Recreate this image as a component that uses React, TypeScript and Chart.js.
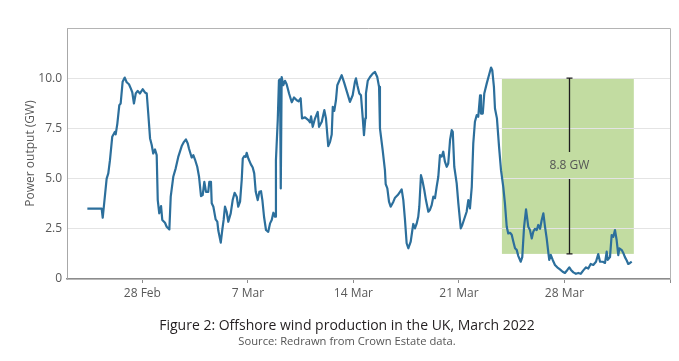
import React, { useEffect, useRef } from "react";
import { Chart, registerables } from "chart.js";

Chart.register(...registerables);

// x values: days since 23 Feb 2022 00:00
const days = [
  1.35, 2.3, 2.37, 2.63, 2.74, 2.85, 3.0, 3.18, 3.23, 3.34, 3.47, 3.56, 3.69, 3.83, 3.96, 4.11, 4.23, 4.33, 4.44, 4.56,
  4.69, 4.84, 5.02, 5.17, 5.29, 5.39, 5.51, 5.62, 5.72, 5.84, 5.95, 6.02, 6.12, 6.24, 6.32, 6.5, 6.61, 6.79, 6.88, 7.05,
  7.21, 7.38, 7.61, 7.76, 7.89, 8.01, 8.09, 8.27, 8.38, 8.49, 8.64, 8.76, 8.89, 9.0, 9.11, 9.22, 9.37, 9.44, 9.55, 9.6,
  9.71, 9.86, 9.97, 10.04, 10.2, 10.3, 10.39, 10.48, 10.59, 10.7, 10.86, 10.99, 11.12, 11.26, 11.36, 11.48, 11.59, 11.66, 11.76, 11.85,
  11.92, 12.03, 12.19, 12.32, 12.42, 12.52, 12.65, 12.76, 12.87, 12.96, 13.07, 13.2, 13.35, 13.47, 13.58, 13.69, 13.8, 13.86, 13.98, 14.06,
  14.13, 14.18, 14.24, 14.35, 14.46, 14.57, 14.73, 14.91, 15.06, 15.24, 15.36, 15.5, 15.59, 15.79, 16.01, 16.12, 16.19, 16.3, 16.45, 16.63,
  16.72, 16.9, 17.07, 17.18, 17.33, 17.45, 17.56, 17.63, 17.73, 17.84, 17.93, 18.06, 18.22, 18.37, 18.55, 18.77, 18.95, 19.1, 19.17, 19.26,
  19.39, 19.5, 19.62, 19.7, 19.79, 19.83, 19.95, 20.1, 20.28, 20.43, 20.58, 20.7, 20.76, 20.94, 21.09, 21.14, 21.25, 21.36, 21.47, 21.65,
  21.76, 21.94, 22.09, 22.2, 22.31, 22.42, 22.53, 22.64, 22.8, 22.91, 22.97, 23.08, 23.2, 23.3, 23.37, 23.48, 23.57, 23.7, 23.81, 23.97,
  24.08, 24.19, 24.3, 24.41, 24.52, 24.63, 24.74, 24.86, 24.96, 25.07, 25.19, 25.29, 25.41, 25.52, 25.59, 25.69, 25.85, 25.96, 26.12, 26.22,
  26.4, 26.51, 26.62, 26.73, 26.85, 26.95, 27.06, 27.18, 27.28, 27.4, 27.46, 27.58, 27.68, 27.84, 27.99, 28.13, 28.21, 28.32, 28.39, 28.52,
  28.66, 28.79, 28.94, 29.05, 29.17, 29.27, 29.39, 29.5, 29.61, 29.72, 29.83, 29.94, 30.1, 30.2, 30.32, 30.45, 30.6, 30.71, 30.83, 30.93,
  31.04, 31.16, 31.26, 31.38, 31.49, 31.6, 31.71, 31.82, 31.93, 31.99, 32.09, 32.22, 32.37, 32.52, 32.7, 32.88, 33.03, 33.19, 33.32, 33.43,
  33.59, 33.76, 33.92, 34.08, 34.25, 34.43, 34.58, 34.74, 34.91, 35.09, 35.24, 35.36, 35.54, 35.69, 35.8, 35.87, 36.02, 36.13, 36.24, 36.35,
  36.46, 36.57, 36.64, 36.8, 36.9, 37.01, 37.13, 37.23, 37.35, 37.46,
];

// Power output, GW
const gw = [
  3.5, 3.5, 3.05, 5.0, 5.26, 5.92, 7.08, 7.33, 7.2, 7.74, 8.66, 8.74, 9.82, 10.03, 9.8, 9.7, 9.49, 9.3, 8.74, 9.24,
  9.37, 9.24, 9.45, 9.29, 9.24, 8.24, 7.0, 6.67, 6.25, 6.45, 6.17, 3.93, 3.27, 3.63, 2.94, 2.8, 2.6, 2.47, 4.1, 5.09,
  5.51, 6.08, 6.62, 6.83, 6.95, 6.75, 6.5, 6.05, 6.17, 5.95, 5.59, 5.09, 4.13, 4.18, 4.84, 4.34, 4.34, 4.84, 4.84, 3.77,
  3.6, 2.97, 2.86, 2.4, 1.81, 2.44, 2.94, 3.6, 3.35, 2.85, 3.27, 3.93, 4.29, 4.1, 3.6, 3.85, 4.93, 6.0, 6.12, 6.08,
  6.28, 6.0, 5.72, 5.55, 5.26, 4.34, 3.93, 4.34, 4.37, 3.93, 3.1, 2.44, 2.35, 2.77, 2.94, 3.3, 3.1, 5.92, 7.91, 9.9,
  9.95, 4.51, 10.06, 9.65, 9.87, 9.7, 9.24, 8.8, 9.04, 8.9, 8.85, 9.0, 8.0, 8.05, 7.91, 7.8, 8.1, 7.58, 7.99, 8.32,
  7.58, 7.83, 8.41, 7.99, 6.62, 6.83, 7.2, 8.57, 8.37, 8.9, 9.65, 9.87, 10.15, 9.82, 9.37, 8.82, 9.15, 9.82, 9.99, 9.65,
  9.24, 9.15, 8.0, 7.16, 8.0, 9.24, 9.87, 10.06, 10.23, 10.31, 10.06, 9.57, 7.5, 6.42, 5.42, 4.73, 4.51, 3.85, 3.6, 3.85,
  4.05, 4.18, 4.34, 4.46, 3.93, 2.94, 1.78, 1.53, 1.86, 2.44, 2.74, 2.52, 2.77, 3.1, 3.6, 5.17, 4.93, 4.43, 3.93, 3.35,
  3.45, 3.68, 4.1, 4.02, 4.59, 5.09, 6.17, 6.1, 6.34, 5.84, 5.59, 5.75, 6.92, 7.41, 7.33, 5.59, 4.76, 3.77, 2.52, 2.69,
  3.1, 3.35, 3.93, 3.52, 4.59, 6.75, 7.83, 8.16, 8.08, 9.15, 8.24, 8.24, 9.24, 9.73, 10.15, 10.53, 10.4, 9.57, 8.49, 8.0,
  6.58, 5.42, 4.59, 3.77, 2.6, 2.27, 2.3, 2.2, 1.86, 1.53, 1.45, 1.14, 0.86, 1.09, 2.6, 3.47, 2.6, 2.44, 2.02, 2.35,
  2.5, 2.44, 2.69, 2.5, 2.94, 3.27, 2.6, 2.02, 1.31, 0.95, 1.2, 0.95, 0.7, 0.58, 0.48, 0.36, 0.3, 0.45, 0.58, 0.45,
  0.33, 0.26, 0.3, 0.26, 0.43, 0.58, 0.52, 0.75, 0.7, 0.86, 1.24, 0.86, 0.86, 0.8, 1.36, 0.95, 1.09, 2.19, 2.1, 2.44,
  1.94, 1.19, 1.53, 1.44, 1.3, 1.09, 0.92, 0.75, 0.8, 0.86,
];

const xTickDays = [5, 12, 19, 26, 33, 40];
const xTickLabels = ["28 Feb", "7 Mar", "14 Mar", "21 Mar", "28 Mar", ""];
const yTickValues = [0, 2.5, 5, 7.5, 10];
const yTickLabels = ["0", "2.5", "5.0", "7.5", "10.0"];

// Shaded range and its annotation
const boxDays = [28.85, 37.6];
const boxRange = [1.25, 10];
const gapDay = 33.32;
const gapLabel = "8.8 GW";
const gapLabelRange = [4.98, 6.32];

const titleText = "Figure 2: Offshore wind production in the UK, March 2022";
const sourceText = "Source: Redrawn from Crown Estate data.";

const FONT = "'Open Sans', 'DejaVu Sans', sans-serif";

const annotationPlugin = {
  id: "gapAnnotation",
  beforeDraw(chart: any) {
    const { ctx } = chart;
    const x = chart.scales.x;
    const y = chart.scales.y;
    const x1 = x.getPixelForValue(boxDays[0]);
    const x2 = x.getPixelForValue(boxDays[1]);
    const yt = y.getPixelForValue(boxRange[1]);
    const yb = y.getPixelForValue(boxRange[0]);
    ctx.save();
    ctx.fillStyle = "#c2dca1";
    ctx.fillRect(x1, yt, x2 - x1, yb - yt);
    ctx.restore();
  },
  afterDatasetsDraw(chart: any) {
    const { ctx, chartArea } = chart;
    const x = chart.scales.x;
    const y = chart.scales.y;
    ctx.save();
    // frame (top and right)
    ctx.strokeStyle = "#b4b4b4";
    ctx.lineWidth = 1;
    ctx.beginPath();
    ctx.moveTo(chartArea.left, Math.round(chartArea.top) + 0.5);
    ctx.lineTo(Math.round(chartArea.right) + 0.5, Math.round(chartArea.top) + 0.5);
    ctx.lineTo(Math.round(chartArea.right) + 0.5, chartArea.bottom);
    ctx.stroke();

    // error bar
    const gx = Math.round(x.getPixelForValue(gapDay)) + 0.5;
    const yt = y.getPixelForValue(boxRange[1]);
    const yb = y.getPixelForValue(boxRange[0]);
    const l1 = y.getPixelForValue(gapLabelRange[1]);
    const l2 = y.getPixelForValue(gapLabelRange[0]);
    ctx.strokeStyle = "#1e1e1e";
    ctx.lineWidth = 1.3;
    ctx.beginPath();
    ctx.moveTo(gx, yt);
    ctx.lineTo(gx, l1);
    ctx.moveTo(gx, l2);
    ctx.lineTo(gx, yb);
    ctx.moveTo(gx - 3, yt);
    ctx.lineTo(gx + 3, yt);
    ctx.moveTo(gx - 3, yb);
    ctx.lineTo(gx + 3, yb);
    ctx.stroke();
    ctx.fillStyle = "#555555";
    ctx.font = `12px ${FONT}`;
    ctx.textAlign = "center";
    ctx.textBaseline = "middle";
    ctx.fillText(gapLabel, gx, (l1 + l2) / 2);
    ctx.restore();
  },
};

export default function App() {
  const ref = useRef<HTMLCanvasElement | null>(null);

  useEffect(() => {
    document.body.style.margin = "0";
    const canvas = ref.current;
    if (!canvas) return;
    const chart = new Chart(canvas, {
      type: "line",
      data: {
        datasets: [
          {
            data: days.map((d, i) => ({ x: d, y: gw[i] })),
            borderColor: "#2c6f9c",
            borderWidth: 2.2,
            pointRadius: 0,
            tension: 0,
            borderJoinStyle: "round",
            fill: false,
          },
        ],
      },
      options: {
        animation: false,
        responsive: false,
        devicePixelRatio: 1,
        layout: { padding: { top: 28, right: 9, left: 0, bottom: 52 } },
        plugins: { legend: { display: false }, tooltip: { enabled: false } },
        scales: {
          x: {
            type: "linear",
            min: 0,
            max: 40,
            afterBuildTicks: (s: any) => {
              s.ticks = xTickDays.map((v) => ({ value: v }));
            },
            afterFit: (s: any) => {
              s.height = 30;
            },
            ticks: {
              autoSkip: false,
              maxRotation: 0,
              padding: 3,
              color: "#595959",
              font: { family: FONT, size: 12 },
              callback: (_v: any, i: number) => xTickLabels[i],
            },
            grid: {
              display: true,
              drawOnChartArea: false,
              drawTicks: true,
              tickLength: 4,
              color: "#8c8c8c",
              lineWidth: 1,
            },
            border: { display: true, color: "#8c8c8c", width: 1.5 },
          },
          y: {
            type: "linear",
            min: 0,
            max: 12.5,
            afterBuildTicks: (s: any) => {
              s.ticks = yTickValues.map((v) => ({ value: v }));
            },
            afterFit: (s: any) => {
              s.width = 67;
            },
            ticks: {
              padding: 5,
              color: "#595959",
              font: { family: FONT, size: 12 },
              callback: (_v: any, i: number) => yTickLabels[i],
            },
            grid: { color: "#e4e4e4", lineWidth: 1, drawTicks: false },
            border: { display: true, color: "#a8a8a8", width: 1 },
            title: {
              display: true,
              text: "Power output (GW)",
              color: "#595959",
              font: { family: FONT, size: 12 },
              padding: { top: 23, bottom: 0 },
            },
          },
        },
      },
      plugins: [annotationPlugin],
    } as any);
    return () => chart.destroy();
  }, []);

  return (
    <div style={{ position: "fixed", left: 0, top: 0, width: 679, height: 361, background: "#fff" }}>
      <canvas ref={ref} width={679} height={361} style={{ position: "absolute", left: 0, top: 0 }} />
      <div
        style={{
          position: "absolute",
          left: 0,
          width: 694,
          top: 315,
          textAlign: "center",
          fontFamily: FONT,
          fontSize: 14,
          lineHeight: "20px",
          color: "#231f20",
        }}
      >
        {titleText}
      </div>
      <div
        style={{
          position: "absolute",
          left: 0,
          width: 694,
          top: 333,
          textAlign: "center",
          fontFamily: FONT,
          fontSize: 11.2,
          lineHeight: "16px",
          color: "#555555",
        }}
      >
        {sourceText}
      </div>
    </div>
  );
}
